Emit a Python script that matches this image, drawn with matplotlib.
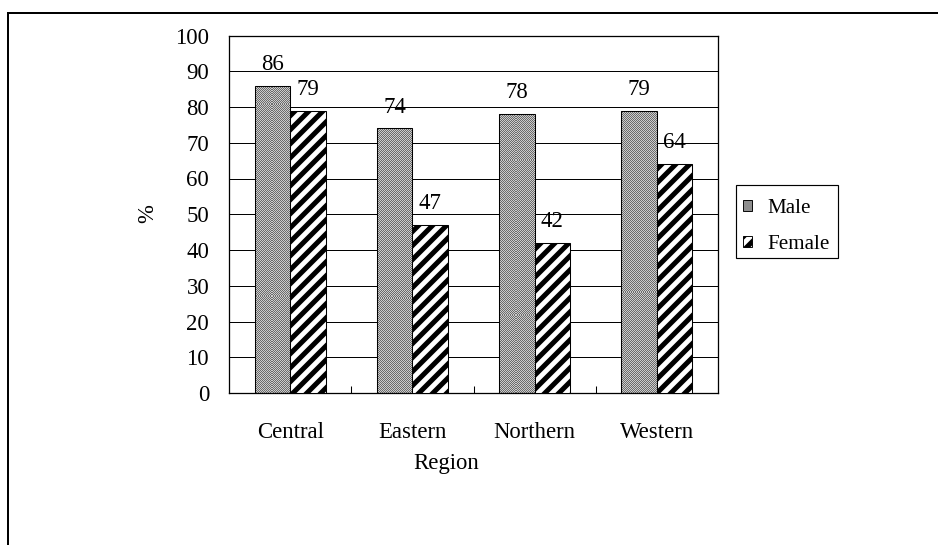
import numpy as np
import matplotlib
matplotlib.use("Agg")
import matplotlib.pyplot as plt
from matplotlib.patches import Patch, Rectangle
from matplotlib.lines import Line2D

# Data
regions = ["Central", "Eastern", "Northern", "Western"]
male = [86, 74, 78, 79]
female = [79, 47, 42, 64]
series_names = ["Male", "Female"]
y_ticks = [0, 10, 20, 30, 40, 50, 60, 70, 80, 90, 100]

DPI = 84
W, H = 938, 545
plt.rcParams["font.family"] = ["Liberation Serif", "DejaVu Serif"]
plt.rcParams["hatch.linewidth"] = 4.3
plt.rcParams["hatch.color"] = "black"

fig = plt.figure(figsize=(W / DPI, H / DPI), dpi=DPI)
fig.patch.set_facecolor("white")

# outer frame (top and left edges visible)
fig.add_artist(Line2D([8 / W, 8 / W], [0, 1 - 13 / H], color="black", lw=1.7,
                      transform=fig.transFigure))
fig.add_artist(Line2D([8 / W, 1], [1 - 13 / H, 1 - 13 / H], color="black", lw=1.7,
                      transform=fig.transFigure))

ax = fig.add_axes([229 / W, 1 - 393 / H, 489 / W, 357.5 / H])
ax.set_axisbelow(True)

x = np.arange(len(regions))
bw = 0.29

# male bars: outline patches with a fine dotted-grey texture clipped inside
male_bars = ax.bar(x - bw / 2, male, width=bw, facecolor="none",
                   edgecolor="black", linewidth=0.9, zorder=3)
ii, jj = np.indices((360, 490))
texture = np.where((ii + jj) % 2 == 0, 0.42, 0.80)
for rect in male_bars:
    im = ax.imshow(texture, cmap="gray", vmin=0, vmax=1,
                   extent=(-0.5, 3.5, 0, 100), aspect="auto",
                   interpolation="nearest", zorder=2)
    im.set_clip_path(rect)

# female bars: black/white diagonal stripes
female_bars = ax.bar(x + bw / 2, female, width=bw, facecolor="white",
                     edgecolor="black", hatch="//", linewidth=0.9, zorder=3)

ax.set_xlim(-0.5, 3.5)
ax.set_ylim(0, 100)

# value labels
for bars, vals in ((male_bars, male), (female_bars, female)):
    for rect, v in zip(bars, vals):
        ax.annotate(f"{v}", xy=(rect.get_x() + rect.get_width() / 2, v),
                    xytext=(0, 13.5), textcoords="offset points",
                    ha="center", va="baseline", fontsize=19.5, zorder=4)

# axes styling
for s in ax.spines.values():
    s.set_color("black")
    s.set_linewidth(1.1)
ax.yaxis.grid(True, color="black", linewidth=0.85)
ax.set_yticks(y_ticks)
ax.tick_params(axis="y", length=0, pad=17, labelsize=19.5)

ax.set_xticks([0.5, 1.5, 2.5])
ax.set_xticklabels([])
ax.tick_params(axis="x", which="major", direction="in", length=6, width=0.9)
ax.set_xticks(x, minor=True)
ax.set_xticklabels(regions, minor=True)
ax.tick_params(axis="x", which="minor", length=0, pad=25, labelsize=19.5)

fig.text(446 / W, 1 - 463 / H, "Region", ha="center", va="center", fontsize=19.5)
fig.text(148 / W, 1 - 214 / H, "%", ha="center", va="center", rotation=90,
         fontsize=19.5)

# legend: entries without frame, box drawn separately
handles = [Patch(facecolor="#8e8e8e", edgecolor="black", linewidth=0.8),
           Patch(facecolor="white", edgecolor="black", hatch="//", linewidth=0.8)]
leg = fig.legend(handles, series_names, loc="upper left",
                 bbox_to_anchor=(743 / W, 1 - 199 / H),
                 bbox_transform=fig.transFigure, fontsize=18,
                 handlelength=0.45, handleheight=0.45, handletextpad=0.7,
                 labelspacing=0.8, borderpad=0, borderaxespad=0,
                 frameon=False)
fig.add_artist(Rectangle((736 / W, 1 - 258 / H), 102 / W, 73 / H,
                         transform=fig.transFigure, fill=False,
                         edgecolor="black", linewidth=1.0))

fig.savefig("out.png", dpi=DPI, facecolor="white")
